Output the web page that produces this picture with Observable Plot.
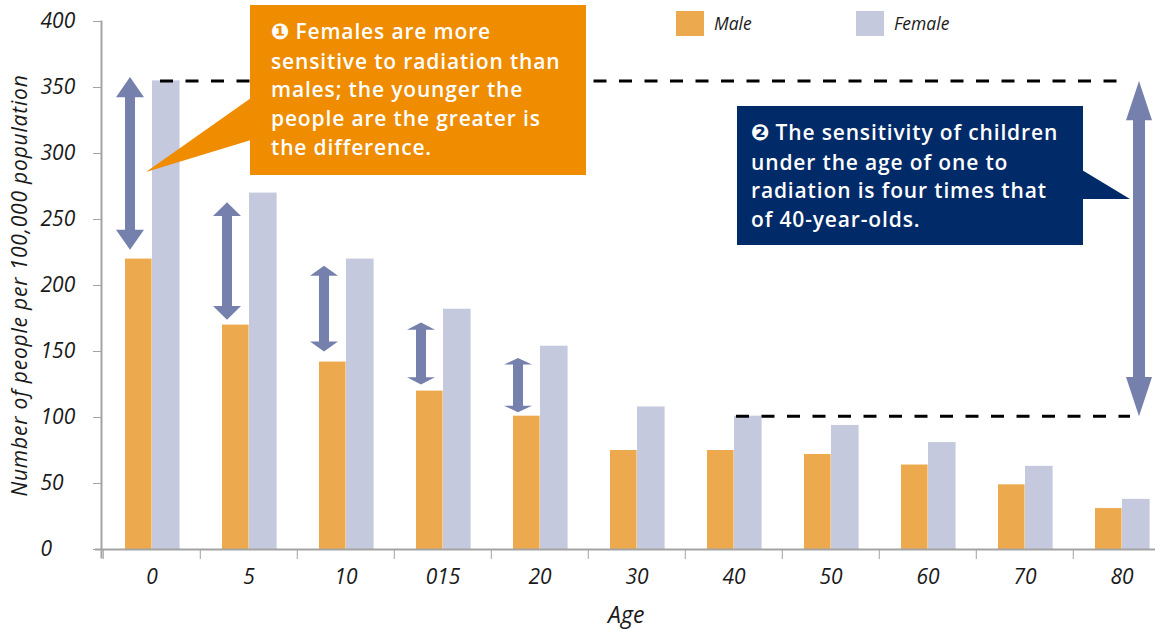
<!DOCTYPE html>
<html><head><meta charset="utf-8">
<script src="https://cdn.jsdelivr.net/npm/d3@7"></script>
<script src="https://cdn.jsdelivr.net/npm/@observablehq/plot@0.6"></script>
<style>
html,body{margin:0;padding:0;background:#fff;overflow:hidden;}
#wrap{position:relative;width:1155px;height:629px;overflow:hidden;}
#wrap svg.plot{position:absolute;left:0;top:0;}
.box{position:absolute;color:#fff;font-family:"Open Sans",sans-serif;font-weight:600;font-size:21px;line-height:28.7px;letter-spacing:0.85px;box-sizing:border-box;white-space:nowrap;}
.num{font-family:"DejaVu Sans",sans-serif;font-size:22px;position:relative;top:0px;margin-right:5px;}
.sw{position:absolute;width:28px;height:25px;}
.lg{position:absolute;font-family:"Open Sans",sans-serif;font-style:italic;font-size:17.5px;color:#1a1a1a;line-height:24px;}
#ptr{position:absolute;left:0;top:0;}
</style></head><body><div id="wrap"></div>
<script>
// ---- data ----
const ages = ["0","5","10","015","20","30","40","50","60","70","80"];
const male = [220,170,142,120,101,75,75,72,64,49,31];
const female = [355,270,220,182,154,108,101,94,81,63,38];
const yTicks = [0,50,100,150,200,250,300,350,400];
// gender-gap arrows
const arrowAges = ["0","5","10","015","20"];
const arrowTop = [358,263,215,172,145];
const arrowBottom = [227,174,150,125,104];
// reference: age 0 female vs age 40 female
const refAges = ["0","40"];
const refValues = [355,101];

const colors = {male:"#EDA94D", female:"#C4C9DD", arrow:"#7581AC", orange:"#EF8C00", navy:"#002A68", axis:"#A3A3A3"};

// ---- layout ----
const W = 1155, H = 629, mt = 21, mb = 80, ml = 101, frameRight = 1172.5;
const mr = W - frameRight;
const step = (frameRight - ml) / ages.length;
const yMax = 400;
const pxPerUnit = (H - mt - mb) / yMax;

const rows = [];
ages.forEach((a, i) => {
  rows.push({age: a, sex: "Male", value: male[i]});
  rows.push({age: a, sex: "Female", value: female[i]});
});
const arrows = arrowAges.map((a, i) => ({age: a, bottom: arrowBottom[i], len: arrowTop[i] - arrowBottom[i]}));
const bigArrow = [{age: ages[ages.length - 1], bottom: refValues[1], len: refValues[0] - refValues[1]}];
const refLines = [
  {from: refAges[0], to: ages[ages.length - 1], v: refValues[0]},
  {from: refAges[1], to: ages[ages.length - 1], v: refValues[1]}
];

function doubleArrow(shaft, head) {
  return {
    draw(ctx, l) {
      const h = Math.max(6.5, 0.117 * l);
      ctx.moveTo(0, -l);
      ctx.lineTo(head, -l + h);
      ctx.lineTo(shaft, -l + h);
      ctx.lineTo(shaft, -h);
      ctx.lineTo(head, -h);
      ctx.lineTo(0, 0);
      ctx.lineTo(-head, -h);
      ctx.lineTo(-shaft, -h);
      ctx.lineTo(-shaft, -l + h);
      ctx.lineTo(-head, -l + h);
      ctx.closePath();
    }
  };
}

const chart = Plot.plot({
  width: W, height: H,
  marginTop: mt, marginBottom: mb, marginLeft: ml, marginRight: mr,
  style: {fontFamily: "'Open Sans', sans-serif", fontStyle: "italic", color: "#1a1a1a", background: "transparent"},
  x: {domain: ages, padding: 0, label: null},
  y: {domain: [0, yMax], label: null},
  length: {type: "linear", domain: [0, yMax], range: [0, yMax * pxPerUnit]},
  marks: [
    Plot.barY(rows.filter(d => d.sex === "Male"), {x: "age", y: "value", fill: colors.male, insetLeft: 22, insetRight: step - 49}),
    Plot.barY(rows.filter(d => d.sex === "Female"), {x: "age", y: "value", fill: colors.female, insetLeft: 49, insetRight: step - 77}),
    Plot.ruleY(refLines.slice(0,1), {x1: "from", x2: "to", y: "v", stroke: "#000", strokeWidth: 3, strokeDasharray: "13,12.5", insetLeft: 57, insetRight: 53}),
    Plot.ruleY(refLines.slice(1), {x1: "from", x2: "to", y: "v", stroke: "#000", strokeWidth: 3, strokeDasharray: "13,12.5", insetLeft: 51, insetRight: 40}),
    Plot.vector(arrows, {x: "age", y: "bottom", length: "len", rotate: 0, anchor: "start", shape: doubleArrow(5, 14), fill: colors.arrow, stroke: "none", dx: -22}),
    Plot.vector(bigArrow, {x: "age", y: "bottom", length: "len", rotate: 0, anchor: "start", shape: doubleArrow(6, 13), fill: colors.arrow, stroke: "none", dx: 17}),
    Plot.ruleY([0], {stroke: colors.axis, strokeWidth: 2, insetLeft: -6}),
    Plot.frame({anchor: "left", stroke: colors.axis, strokeWidth: 2, insetBottom: -8}),
    Plot.axisY({ticks: yTicks, tickSize: 8, tickPadding: 53, textAnchor: "start", stroke: colors.axis, fontSize: 21,
      style: {letterSpacing: "1px"},
      label: "Number of people per 100,000 population", labelAnchor: "center", labelOffset: 89, labelArrow: "none"}),
    Plot.axisX({tickSize: 10, tickFormat: () => "", stroke: colors.axis, dx: -step / 2, label: null}),
    Plot.axisX({tickSize: 0, tickPadding: 20, fontSize: 21, label: null}),
    Plot.text(["Age"], {text: d => d, frameAnchor: "bottom", dy: 73, dx: -11, fontSize: 23, fontStyle: "italic"})
  ]
});

const wrap = document.getElementById("wrap");
wrap.appendChild(chart);
// y-axis title size
chart.querySelectorAll("g[aria-label='y-axis label'] text").forEach(t => { t.setAttribute("font-size", 21); t.style.letterSpacing = "0.8px"; });

// callout pointers
const ns = "http://www.w3.org/2000/svg";
const ptr = document.createElementNS(ns, "svg");
ptr.setAttribute("id", "ptr");
ptr.setAttribute("width", W); ptr.setAttribute("height", H);
[["146,172 251,98 251,140", colors.orange], ["1082,170 1130,199 1082,199", colors.navy]].forEach(([pts, c]) => {
  const p = document.createElementNS(ns, "polygon");
  p.setAttribute("points", pts); p.setAttribute("fill", c);
  ptr.appendChild(p);
});
wrap.appendChild(ptr);

function box(left, top, w, h, bg, padL, padT, html) {
  const d = document.createElement("div");
  d.className = "box";
  Object.assign(d.style, {left: left + "px", top: top + "px", width: w + "px", height: h + "px", background: bg, paddingLeft: padL + "px", paddingTop: padT + "px"});
  d.innerHTML = html;
  wrap.appendChild(d);
}
box(250, 5, 336, 170, colors.orange, 21, 12,
  '<span class="num">❶</span>Females are more<br>sensitive to radiation than<br>males; the younger the<br>people are the greater is<br>the difference.');
box(737, 106, 346, 139, colors.navy, 14, 12,
  '<span class="num">❷</span>The sensitivity of children<br>under the age of one to<br>radiation is four times that<br>of 40-year-olds.');

// legend
function legend(x, label, color) {
  const s = document.createElement("div");
  s.className = "sw";
  Object.assign(s.style, {left: x + "px", top: "11px", background: color});
  wrap.appendChild(s);
  const t = document.createElement("div");
  t.className = "lg";
  t.textContent = label;
  Object.assign(t.style, {left: (x + 38) + "px", top: "11px"});
  wrap.appendChild(t);
}
legend(676, "Male", colors.male);
legend(856, "Female", colors.female);
</script>
</body></html>
